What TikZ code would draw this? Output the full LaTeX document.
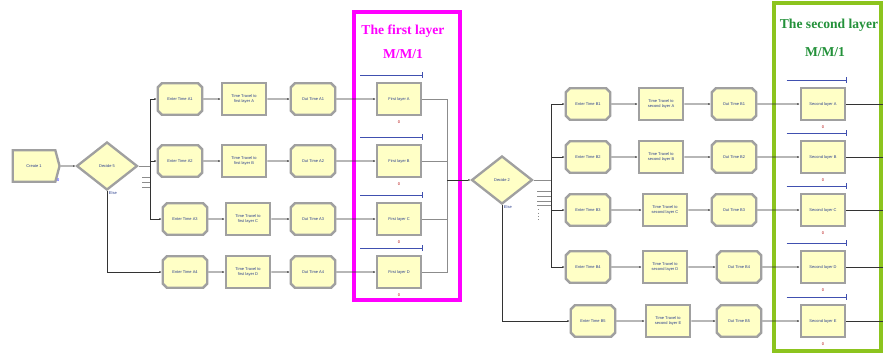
\documentclass[tikz,border=0pt]{standalone}
\usepackage{fontspec}
\setmainfont{Liberation Serif}
\setsansfont{Liberation Sans}
\usetikzlibrary{shapes, positioning, arrows.meta}

\definecolor{modfill}{HTML}{FFFFC6}
\definecolor{modedge}{HTML}{A0A0A0}
\definecolor{modtext}{HTML}{283C8C}
\definecolor{firstbox}{HTML}{FF00FF}
\definecolor{secondbox}{HTML}{8CC41E}
\definecolor{secondtext}{HTML}{23913A}
\definecolor{queueblue}{HTML}{4050B0}

\tikzset{
  mod/.style = {draw=modedge, line width=2pt, fill=modfill, text=modtext, font=\sffamily\fontsize{3.4}{4}\selectfont, align=center, inner sep=1pt, minimum width=38pt, minimum height=27pt},
  enter/.style = {mod, chamfered rectangle, chamfered rectangle xsep=1.8pt, chamfered rectangle ysep=1.8pt},
  proc/.style = {mod, rectangle},
  decide/.style = {mod, diamond, aspect=1.25, minimum width=52pt, minimum height=41pt},
  create/.style = {mod, signal, signal to=east, signal pointer angle=150, minimum width=40pt},
  conn/.style = {line width=0.55pt, draw=black!80, -{Latex[width=1.6pt, length=1.8pt]}},
  bus/.style = {line width=0.8pt, draw=black!45},
  queue/.style = {draw=queueblue, line width=0.5pt, -{Bar[width=5pt]}},
  count/.style = {font=\sffamily\fontsize{3.4}{4}\selectfont, inner sep=0.5pt},
  title/.style = {font=\bfseries\fontsize{11.6}{13}\selectfont}
}

\begin{document}
\begin{tikzpicture}[x=0.03cm, y=-0.03cm]
  \useasboundingbox (0,0) rectangle (883,353);

  % layer frames
  \draw[firstbox, line width=3.4pt] (354,12) rectangle (460,300);
  \draw[secondbox, line width=3.4pt] (774,3) rectangle (881,351);
  \node[title, text=firstbox] (t1a) at (403,31) {The first layer};
  \node[title, text=firstbox] (t1b) at (403,54) {M/M/1};
  \node[title, text=secondtext] (t2a) at (829,25) {The second layer};
  \node[title, text=secondtext] (t2b) at (825,52) {M/M/1};

  % source and first decision
  \node[create] (cr) at (34,166) {Create 1};
  \node[count, text=blue, anchor=north west] (cr0) at ([yshift=4pt]cr.south east) {0};
  \node[decide] (d5) at (107,166) {Decide 5};
  \node[count, text=modtext, anchor=north west] (d5e) at ([xshift=1pt]d5.south) {Else};
  \draw[conn] (cr) -- (d5);

  % first layer rows
  \node[enter] (ea1) at (180,99) {Enter Time A1};
  \node[proc] (tta) at (244,99) {Time Travel to\\first layer A};
  \node[enter] (oa1) at (313,99) {Out Time A1};
  \node[proc] (fla) at (399,99) {First layer A};

  \node[enter] (ea2) at (180,161) {Enter Time A2};
  \node[proc] (ttb) at (244,161) {Time Travel to\\first layer B};
  \node[enter] (oa2) at (313,161) {Out Time A2};
  \node[proc] (flb) at (399,161) {First layer B};

  \node[enter] (ea3) at (185,219) {Enter Time A3};
  \node[proc] (ttc) at (248,219) {Time Travel to\\first layer C};
  \node[enter] (oa3) at (313,219) {Out Time A3};
  \node[proc] (flc) at (399,219) {First layer C};

  \node[enter] (ea4) at (185,272) {Enter Time A4};
  \node[proc] (ttd) at (248,272) {Time Travel to\\first layer D};
  \node[enter] (oa4) at (313,272) {Out Time A4};
  \node[proc] (fld) at (399,272) {First layer D};

  \draw[conn] (ea1) -- (tta);  \draw[conn] (tta) -- (oa1);  \draw[conn] (oa1) -- (fla);
  \draw[conn] (ea2) -- (ttb);  \draw[conn] (ttb) -- (oa2);  \draw[conn] (oa2) -- (flb);
  \draw[conn] (ea3) -- (ttc);  \draw[conn] (ttc) -- (oa3);  \draw[conn] (oa3) -- (flc);
  \draw[conn] (ea4) -- (ttd);  \draw[conn] (ttd) -- (oa4);  \draw[conn] (oa4) -- (fld);

  % queues and counters of the first layer
  \draw[queue] ([shift={(-13pt,6pt)}]fla.north west) -- ([yshift=6pt]fla.north east);
  \draw[queue] ([shift={(-13pt,6pt)}]flb.north west) -- ([yshift=6pt]flb.north east);
  \draw[queue] ([shift={(-13pt,6pt)}]flc.north west) -- ([yshift=6pt]flc.north east);
  \draw[queue] ([shift={(-13pt,6pt)}]fld.north west) -- ([yshift=6pt]fld.north east);
  \node[count, text=red!70!black, below=3pt of fla] (fla0) {0};
  \node[count, text=red!70!black, below=3pt of flb] (flb0) {0};
  \node[count, text=red!70!black, below=3pt of flc] (flc0) {0};
  \node[count, text=red!70!black, below=3pt of fld] (fld0) {0};

  % branches of Decide 5
  \coordinate (bus5) at (150,166);
  \draw[bus] (d5.east) -- (bus5);
  \draw[bus] ([shift={(3pt,-10pt)}]d5.east) -- ([yshift=-10pt]bus5);
  \draw[bus] ([shift={(3pt,-14pt)}]d5.east) -- ([yshift=-14pt]bus5);
  \draw[bus] ([shift={(3pt,-18pt)}]d5.east) -- ([yshift=-18pt]bus5);
  \draw[conn] (bus5) |- (ea1);
  \draw[conn] (bus5) |- (ea2);
  \draw[conn] (bus5) |- (ea3);
  \draw[conn] (d5.south) |- (ea4);

  % second decision
  \node[decide] (d2) at (502,180) {Decide 2};
  \node[count, text=modtext, anchor=north west] (d2e) at ([xshift=1pt]d2.south) {Else};
  \coordinate (join1) at (447,180);
  \draw[bus] (fla.east) -| (join1);
  \draw[bus] (flb.east) -| (join1);
  \draw[bus] (flc.east) -| (join1);
  \draw[bus] (fld.east) -| (join1);
  \draw[conn] (join1) -- (d2);

  % second layer rows
  \node[enter] (eb1) at (588,104) {Enter Time B1};
  \node[proc] (tt2a) at (661,104) {Time Travel to\\second layer A};
  \node[enter] (ob1) at (734,104) {Out Time B1};
  \node[proc] (sla) at (823,104) {Second layer A};

  \node[enter] (eb2) at (588,157) {Enter Time B2};
  \node[proc] (tt2b) at (661,157) {Time Travel to\\second layer B};
  \node[enter] (ob2) at (734,157) {Out Time B2};
  \node[proc] (slb) at (823,157) {Second layer B};

  \node[enter] (eb3) at (588,210) {Enter Time B3};
  \node[proc] (tt2c) at (665,210) {Time Travel to\\second layer C};
  \node[enter] (ob3) at (734,210) {Out Time B3};
  \node[proc] (slc) at (823,210) {Second layer C};

  \node[enter] (eb4) at (588,267) {Enter Time B4};
  \node[proc] (tt2d) at (665,267) {Time Travel to\\second layer D};
  \node[enter] (ob4) at (739,267) {Out Time B4};
  \node[proc] (sld) at (823,267) {Second layer D};

  \node[enter] (eb5) at (593,321) {Enter Time B5};
  \node[proc] (tt2e) at (668,321) {Time Travel to\\second layer E};
  \node[enter] (ob5) at (739,321) {Out Time B5};
  \node[proc] (sle) at (823,321) {Second layer E};

  \draw[conn] (eb1) -- (tt2a);  \draw[conn] (tt2a) -- (ob1);  \draw[conn] (ob1) -- (sla);
  \draw[conn] (eb2) -- (tt2b);  \draw[conn] (tt2b) -- (ob2);  \draw[conn] (ob2) -- (slb);
  \draw[conn] (eb3) -- (tt2c);  \draw[conn] (tt2c) -- (ob3);  \draw[conn] (ob3) -- (slc);
  \draw[conn] (eb4) -- (tt2d);  \draw[conn] (tt2d) -- (ob4);  \draw[conn] (ob4) -- (sld);
  \draw[conn] (eb5) -- (tt2e);  \draw[conn] (tt2e) -- (ob5);  \draw[conn] (ob5) -- (sle);

  % queues and counters of the second layer
  \draw[queue] ([shift={(-11pt,6pt)}]sla.north west) -- ([yshift=6pt]sla.north east);
  \draw[queue] ([shift={(-11pt,6pt)}]slb.north west) -- ([yshift=6pt]slb.north east);
  \draw[queue] ([shift={(-11pt,6pt)}]slc.north west) -- ([yshift=6pt]slc.north east);
  \draw[queue] ([shift={(-11pt,6pt)}]sld.north west) -- ([yshift=6pt]sld.north east);
  \draw[queue] ([shift={(-11pt,6pt)}]sle.north west) -- ([yshift=6pt]sle.north east);
  \node[count, text=red!70!black, below=3pt of sla] (sla0) {0};
  \node[count, text=red!70!black, below=3pt of slb] (slb0) {0};
  \node[count, text=red!70!black, below=3pt of slc] (slc0) {0};
  \node[count, text=red!70!black, below=3pt of sld] (sld0) {0};
  \node[count, text=red!70!black, below=3pt of sle] (sle0) {0};

  % branches of Decide 2
  \coordinate (bus2) at (551,180);
  \draw[bus] (d2.east) -- (bus2);
  \draw[bus] ([shift={(3pt,-10pt)}]d2.east) -- ([yshift=-10pt]bus2);
  \draw[bus] ([shift={(3pt,-14pt)}]d2.east) -- ([yshift=-14pt]bus2);
  \draw[bus] ([shift={(3pt,-18pt)}]d2.east) -- ([yshift=-18pt]bus2);
  \draw[bus] ([shift={(3pt,-22pt)}]d2.east) -- ([yshift=-22pt]bus2);
  \draw[bus, dotted] ([shift={(4pt,-25pt)}]d2.east) -- ([shift={(4pt,-34pt)}]d2.east);
  \draw[conn] (bus2) |- (eb1);
  \draw[conn] (bus2) |- (eb2);
  \draw[conn] (bus2) |- (eb3);
  \draw[conn] (bus2) |- (eb4);
  \draw[conn] (d2.south) |- (eb5);

  % exits on the right edge
  \coordinate (exa) at (883,104);
  \coordinate (exb) at (883,157);
  \coordinate (exc) at (883,210);
  \coordinate (exd) at (883,267);
  \coordinate (exe) at (883,321);
  \draw[line width=0.55pt, black!80] (sla) -- (exa);
  \draw[line width=0.55pt, black!80] (slb) -- (exb);
  \draw[line width=0.55pt, black!80] (slc) -- (exc);
  \draw[line width=0.55pt, black!80] (sld) -- (exd);
  \draw[line width=0.55pt, black!80] (sle) -- (exe);
\end{tikzpicture}
\end{document}
